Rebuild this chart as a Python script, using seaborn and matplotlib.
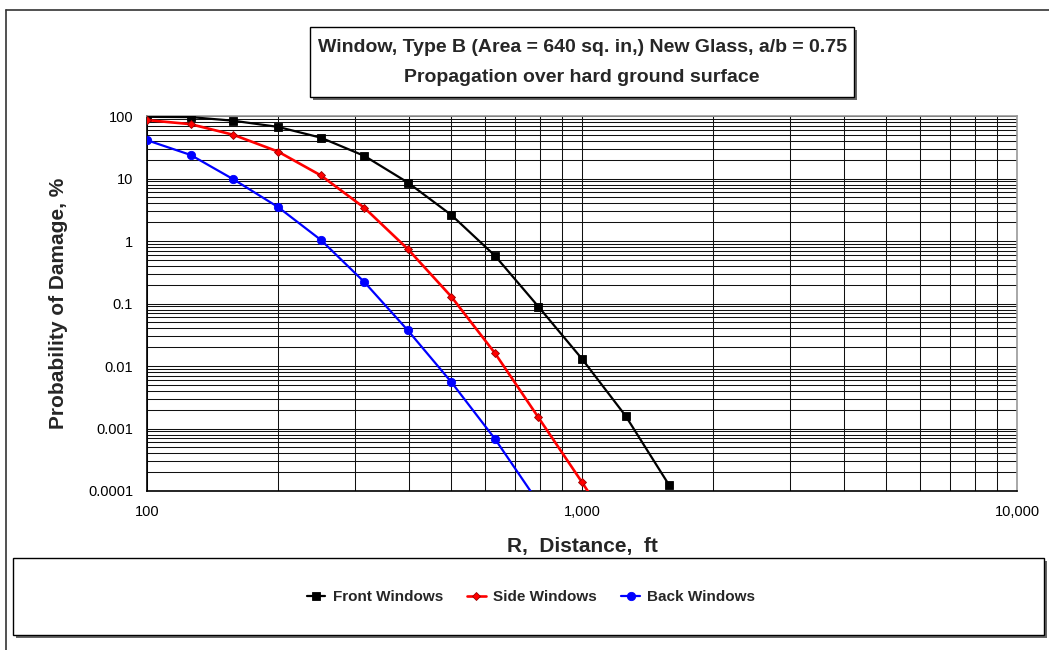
import numpy as np
import pandas as pd
import matplotlib
matplotlib.use("Agg")
import matplotlib.pyplot as plt
import seaborn as sns
from matplotlib.patches import Rectangle
from matplotlib.lines import Line2D
from matplotlib.ticker import FixedLocator, FixedFormatter, LogLocator, NullFormatter

# data (distance in ft, probability in %)
distance = [100, 126, 158, 200, 251, 316, 398, 501, 631, 794, 1000, 1259, 1585]
front = [97, 96, 84, 67, 45, 23, 8.6, 2.6, 0.58, 0.089, 0.013, 0.0016, 0.000125]
side = [86, 74, 50, 27, 11.2, 3.4, 0.74, 0.128, 0.016, 0.0015, 0.000138, 0.000012]
back = [41, 23.8, 9.7, 3.5, 1.04, 0.22, 0.037, 0.0055, 0.00068, 0.000065]

series_names = ["Front Windows", "Side Windows", "Back Windows"]
y_ticks = [0.0001, 0.001, 0.01, 0.1, 1, 10, 100]
y_labels = ["0.0001", "0.001", "0.01", "0.1", "1", "10", "100"]
x_ticks = [100, 1000, 10000]
x_labels = ["100", "1,000", "10,000"]

rows = []
for name, vals in zip(series_names, [front, side, back]):
    for r, p in zip(distance, vals):
        rows.append({"Series": name, "R": r, "P": p})
df = pd.DataFrame(rows)

sns.set_style("white")
plt.rcParams['font.family'] = ['Liberation Sans', 'DejaVu Sans']

fig = plt.figure(figsize=(10.49, 6.5), dpi=100)
ax = fig.add_axes([147/1049, 1-491/650, 870/1049, 375/650])

styles = {
    "Front Windows": dict(color="black", marker="s", markersize=5.5, mfc="black", mec="black", lw=1.6),
    "Side Windows": dict(color="red", marker="D", markersize=3.8, mfc="red", mec="#990000", lw=1.9),
    "Back Windows": dict(color="blue", marker="o", markersize=6, mfc="blue", mec="blue", lw=1.6),
}
for name in series_names:
    st = styles[name]
    sns.lineplot(data=df[df["Series"] == name], x="R", y="P", ax=ax, sort=False,
                 color=st["color"], marker=st["marker"], markersize=st["markersize"],
                 markerfacecolor=st["mfc"], markeredgecolor=st["mec"], markeredgewidth=0.6,
                 linewidth=st["lw"], legend=False, zorder=3)

ax.set_xscale("log")
ax.set_yscale("log")
ax.set_xlim(100, 10000)
ax.set_ylim(0.0001, 100)

ax.xaxis.set_major_locator(FixedLocator(x_ticks))
ax.xaxis.set_major_formatter(FixedFormatter(x_labels))
ax.yaxis.set_major_locator(FixedLocator(y_ticks))
ax.yaxis.set_major_formatter(FixedFormatter(y_labels))
ax.xaxis.set_minor_locator(LogLocator(base=10, subs=np.arange(2, 10)))
ax.yaxis.set_minor_locator(LogLocator(base=10, subs=np.arange(2, 10), numticks=20))
ax.xaxis.set_minor_formatter(NullFormatter())
ax.yaxis.set_minor_formatter(NullFormatter())

ax.grid(True, which="both", color="#111111", linewidth=0.75)
ax.tick_params(which="both", length=0, labelsize=10.5, colors="black")
ax.tick_params(axis="x", pad=10)
ax.tick_params(axis="y", pad=10)

for s in ["left", "bottom"]:
    ax.spines[s].set_color("black")
    ax.spines[s].set_linewidth(1.2)
for s in ["top", "right"]:
    ax.spines[s].set_color("#999999")
    ax.spines[s].set_linewidth(1.2)

ax.set_xlabel("R,  Distance,  ft", fontsize=15, fontweight="bold")
ax.set_ylabel("Probability of Damage, %", fontsize=15, fontweight="bold")
ax.xaxis.set_label_coords(0.5, -(537-491)/375)
ax.yaxis.set_label_coords(-(147-68)/870, 0.5)

# outer chart frame
fig.add_artist(Line2D([6/1049, 6/1049], [0, 1-10/650], color="#333333", lw=1.2))
fig.add_artist(Line2D([6/1049, 1], [1-10/650, 1-10/650], color="#333333", lw=1.2))

# boxes with drop shadow
def shadow_box(x0, y0, x1, y1):
    w, h = (x1-x0)/1049, (y1-y0)/650
    fig.add_artist(Rectangle((x0/1049 + 3/1049, 1-y1/650 - 3/650), w, h,
                             facecolor="#666666", edgecolor="none"))
    fig.add_artist(Rectangle((x0/1049, 1-y1/650), w, h,
                             facecolor="white", edgecolor="black", linewidth=1.0))

shadow_box(310, 27, 854, 97)
fig.text(582/1049, 1-47/650, "Window, Type B (Area = 640 sq. in,) New Glass, a/b = 0.75",
         ha="center", va="center", fontsize=14, fontweight="bold")
fig.text(582/1049, 1-78/650, "Propagation over hard ground surface",
         ha="center", va="center", fontsize=14, fontweight="bold")

# legend box
shadow_box(13, 558, 1044, 635)
handles = ax.get_lines()[:3]
fig.legend(handles, series_names, loc="center", bbox_to_anchor=(531/1049, 1-597/650),
           ncol=3, frameon=False, handlelength=1.2, handletextpad=0.5, columnspacing=1.6,
           prop={"weight": "bold", "size": 11})

fig.savefig("out.png", dpi=100)
